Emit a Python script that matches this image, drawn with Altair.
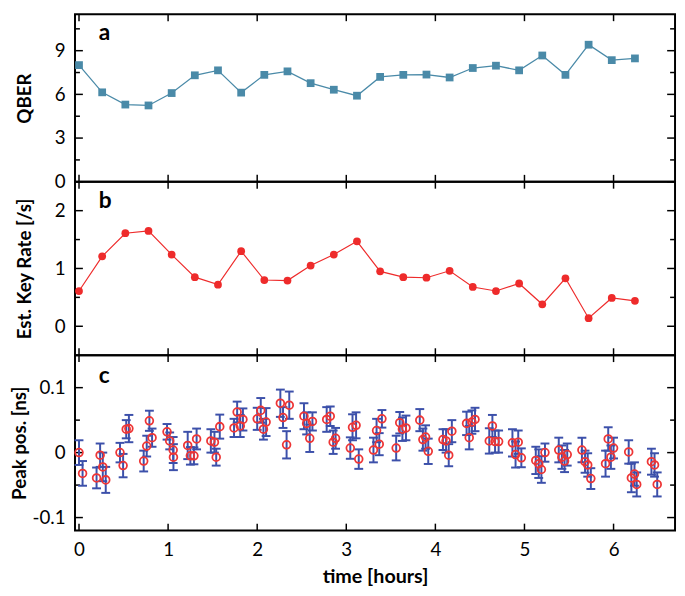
import altair as alt
import pandas as pd

# ---------------- data ----------------
hours_ab = [0.00, 0.26, 0.52, 0.78, 1.04, 1.30, 1.56, 1.82, 2.08, 2.34, 2.60, 2.86, 3.12,
            3.38, 3.64, 3.90, 4.16, 4.42, 4.68, 4.94, 5.20, 5.46, 5.72, 5.98, 6.24]
qber = [8.01, 6.14, 5.30, 5.24, 6.09, 7.31, 7.65, 6.12, 7.34, 7.58, 6.77, 6.32, 5.91,
        7.20, 7.34, 7.36, 7.16, 7.81, 7.97, 7.65, 8.67, 7.34, 9.41, 8.35, 8.47]
key_rate = [0.61, 1.21, 1.61, 1.65, 1.24, 0.85, 0.72, 1.30, 0.80, 0.79, 1.05, 1.24, 1.47,
            0.95, 0.85, 0.84, 0.96, 0.68, 0.61, 0.74, 0.38, 0.83, 0.14, 0.49, 0.44]

t_c = [0.00, 0.04, 0.197, 0.237, 0.267, 0.30, 0.46, 0.495, 0.53, 0.56, 0.726, 0.76, 0.79, 0.82,
       0.988, 1.018, 1.057, 1.06, 1.22, 1.25, 1.29, 1.32, 1.48, 1.52, 1.54, 1.58, 1.74, 1.775,
       1.81, 1.84, 2.00, 2.04, 2.07, 2.10, 2.26, 2.29, 2.33, 2.36, 2.525, 2.555, 2.59, 2.62,
       2.78, 2.82, 2.853, 2.88, 3.045, 3.07, 3.11, 3.14, 3.305, 3.34, 3.37, 3.40, 3.56, 3.60,
       3.63, 3.67, 3.825, 3.86, 3.89, 3.92, 4.085, 4.12, 4.15, 4.185, 4.35, 4.38, 4.41, 4.445,
       4.605, 4.64, 4.67, 4.71, 4.865, 4.90, 4.93, 4.965, 5.127, 5.16, 5.19, 5.23, 5.385, 5.42,
       5.45, 5.48, 5.645, 5.68, 5.71, 5.745, 5.91, 5.94, 5.97, 6.00, 6.17, 6.20, 6.235, 6.26,
       6.425, 6.46, 6.49]
peak = [0.000, -0.032, -0.039, -0.004, -0.022, -0.042, 0.000, -0.020, 0.036, 0.037, -0.013,
        0.010, 0.049, 0.023, 0.032, 0.018, 0.004, -0.007, 0.011, -0.005, -0.005, 0.021, 0.018,
        0.016, -0.007, 0.040, 0.038, 0.0625, 0.041, 0.051, 0.052, 0.065, 0.036, 0.047, 0.076,
        0.054, 0.012, 0.073, 0.056, 0.045, 0.022, 0.048, 0.051, 0.056, 0.016, 0.022, 0.007,
        0.039, 0.042, -0.010, 0.004, 0.034, 0.013, 0.052, 0.007, 0.046, 0.036, 0.038, 0.050,
        0.020, 0.024, 0.002, 0.020, 0.018, -0.004, 0.033, 0.045, 0.023, 0.047, 0.051, 0.018,
        0.041, 0.017, 0.017, 0.015, -0.003, 0.016, -0.008, -0.012, -0.017, -0.026, 0.000,
        0.004, -0.007, -0.013, -0.003, 0.004, -0.014, -0.019, -0.040, -0.017, 0.021, -0.007,
        0.007, 0.001, -0.039, -0.033, -0.049, -0.014, -0.019, -0.049]
peak_err = [0.019, 0.019, 0.016, 0.018, 0.022, 0.020, 0.015, 0.018, 0.014, 0.021, 0.016,
            0.016, 0.0155, 0.014, 0.012, 0.013, 0.020, 0.020, 0.021, 0.0135, 0.013, 0.016,
            0.018, 0.016, 0.013, 0.0185, 0.014, 0.016, 0.017, 0.017, 0.017, 0.019, 0.016,
            0.0215, 0.021, 0.016, 0.021, 0.021, 0.020, 0.017, 0.021, 0.014, 0.019, 0.015,
            0.018, 0.016, 0.0165, 0.020, 0.020, 0.015, 0.019, 0.018, 0.017, 0.0135, 0.019,
            0.0165, 0.018, 0.019, 0.017, 0.017, 0.018, 0.0195, 0.016, 0.018, 0.017, 0.017,
            0.018, 0.018, 0.018, 0.018, 0.0195, 0.017, 0.017, 0.017, 0.021, 0.020, 0.018,
            0.0145, 0.021, 0.022, 0.0205, 0.014, 0.019, 0.018, 0.017, 0.017, 0.019, 0.017,
            0.018, 0.016, 0.020, 0.018, 0.018, 0.016, 0.018, 0.022, 0.018, 0.0185, 0.020,
            0.018, 0.0185]

x_ticks = [0, 1, 2, 3, 4, 5, 6]
a_major, a_minor = [0, 3, 6, 9], [1.5, 4.5, 7.5, 10.5]
b_major, b_minor = [0, 1, 2], [0.5, 1.5]
c_major, c_minor = [-0.1, 0, 0.1], [-0.05, 0.05]

# ---------------- styling ----------------
W = 609
XDOM = [-0.045, 6.69]
FONT = "Lato"
BLUE_A = "#4a8aa8"
RED_B = "#ee2b2b"
RED_C = "#ee3535"
BLUE_C = "#3c50aa"
LBL = 19
TTL = 19

xscale = alt.Scale(domain=XDOM, nice=False, zero=False)


def tick_layers(ys, yaxis, xaxis, major, minor, H):
    maj = pd.DataFrame({"v": major})
    mino = pd.DataFrame({"v": minor})
    xt = pd.DataFrame({"h": x_ticks})
    y_enc = alt.Y("v:Q", scale=ys, axis=yaxis)
    x_enc = alt.X("h:Q", scale=xscale, axis=xaxis)
    L = []
    L.append(alt.Chart(maj).mark_rule(color="black", strokeWidth=1.5).encode(
        y=y_enc, x=alt.value(0), x2=alt.value(8)))
    L.append(alt.Chart(maj).mark_rule(color="black", strokeWidth=1.5).encode(
        y=y_enc, x=alt.value(W - 8), x2=alt.value(W)))
    L.append(alt.Chart(mino).mark_rule(color="black", strokeWidth=1.5).encode(
        y=y_enc, x=alt.value(0), x2=alt.value(5)))
    L.append(alt.Chart(mino).mark_rule(color="black", strokeWidth=1.5).encode(
        y=y_enc, x=alt.value(W - 5), x2=alt.value(W)))
    L.append(alt.Chart(xt).mark_rule(color="black", strokeWidth=1.5).encode(
        x=x_enc, y=alt.value(H), y2=alt.value(H - 7)))
    L.append(alt.Chart(xt).mark_rule(color="black", strokeWidth=1.5).encode(
        x=x_enc, y=alt.value(0), y2=alt.value(7)))
    return L


def letter(txt, yb):
    return alt.Chart(pd.DataFrame({"l": [txt]})).mark_text(
        font=FONT, fontSize=23, fontWeight="bold", align="left", baseline="alphabetic",
        color="black").encode(text="l:N", x=alt.value(24), y=alt.value(yb))


def yaxis_for(values, title, title_x, label_expr=None):
    kw = dict(values=values, ticks=False, domain=False, grid=False, labelPadding=10,
              labelFontSize=LBL, labelFont=FONT, labelColor="black", title=title,
              titleFontSize=TTL, titleFont=FONT, titleFontWeight="bold", titleColor="black",
              titleX=title_x)
    if label_expr:
        kw["labelExpr"] = label_expr
    return alt.Axis(**kw)


# ---------------- panel a ----------------
HA = 170
ys_a = alt.Scale(domain=[0, 11.5], nice=False, zero=False)
ya = yaxis_for(a_major, "QBER", -41)
df_a = pd.DataFrame({"h": hours_ab, "v": qber})
pa_line = alt.Chart(df_a).mark_line(color=BLUE_A, strokeWidth=1.3).encode(
    x=alt.X("h:Q", scale=xscale, axis=None), y=alt.Y("v:Q", scale=ys_a, axis=ya))
pa_pts = alt.Chart(df_a).mark_square(color=BLUE_A, size=62, opacity=1).encode(
    x=alt.X("h:Q", scale=xscale, axis=None), y=alt.Y("v:Q", scale=ys_a, axis=ya))
panel_a = alt.layer(*tick_layers(ys_a, ya, None, a_major, a_minor, HA), pa_line, pa_pts,
                    letter("a", 26)).properties(width=W, height=HA)

# ---------------- panel b ----------------
HB = 176
ys_b = alt.Scale(domain=[-0.5, 2.5], nice=False, zero=False)
yb = yaxis_for(b_major, "Est. Key Rate [/s]", -41)
df_b = pd.DataFrame({"h": hours_ab, "v": key_rate})
pb_line = alt.Chart(df_b).mark_line(color=RED_B, strokeWidth=1.2).encode(
    x=alt.X("h:Q", scale=xscale, axis=None), y=alt.Y("v:Q", scale=ys_b, axis=yb))
pb_pts = alt.Chart(df_b).mark_circle(color=RED_B, size=62, opacity=1).encode(
    x=alt.X("h:Q", scale=xscale, axis=None), y=alt.Y("v:Q", scale=ys_b, axis=yb))
panel_b = alt.layer(*tick_layers(ys_b, yb, None, b_major, b_minor, HB), pb_line, pb_pts,
                    letter("b", 27)).properties(width=W, height=HB)

# ---------------- panel c ----------------
HC = 178
ys_c = alt.Scale(domain=[-0.12, 0.15], nice=False, zero=False)
yc = yaxis_for(c_major, "Peak pos. [ns]", -46, "'' + datum.value")
xc = alt.Axis(values=x_ticks, ticks=False, domain=False, grid=False, labelPadding=10,
              labelFontSize=LBL, labelFont=FONT, labelColor="black", title="time [hours]",
              titleFontSize=20, titleFont=FONT, titleFontWeight="bold", titleColor="black",
              titlePadding=8)
df_c = pd.DataFrame({"h": t_c, "v": peak, "e": peak_err})
base_c = alt.Chart(df_c).transform_calculate(lo="datum.v - datum.e", hi="datum.v + datum.e")
X_c = alt.X("h:Q", scale=xscale, axis=xc)
pc_bar = base_c.mark_rule(color=BLUE_C, strokeWidth=2).encode(
    x=X_c, y=alt.Y("lo:Q", scale=ys_c, axis=yc), y2="hi:Q")
pc_cap_lo = base_c.mark_tick(color=BLUE_C, orient="horizontal", size=9, thickness=2,
                             opacity=1).encode(x=X_c, y=alt.Y("lo:Q", scale=ys_c, axis=yc))
pc_cap_hi = base_c.mark_tick(color=BLUE_C, orient="horizontal", size=9, thickness=2,
                             opacity=1).encode(x=X_c, y=alt.Y("hi:Q", scale=ys_c, axis=yc))
pc_pts = base_c.mark_point(shape="circle", filled=False, color=RED_C, size=62,
                           strokeWidth=1.8, opacity=1).encode(
    x=X_c, y=alt.Y("v:Q", scale=ys_c, axis=yc))
panel_c = alt.layer(*tick_layers(ys_c, yc, xc, c_major, c_minor, HC), pc_bar, pc_cap_lo,
                    pc_cap_hi, pc_pts, letter("c", 28)).properties(width=W, height=HC)

chart = alt.vconcat(panel_a, panel_b, panel_c, spacing=0, bounds="flush").properties(
    padding={"left": 2, "top": 0, "right": 0, "bottom": 0}
).configure(
    font=FONT,
    view=alt.ViewConfig(stroke="black", strokeWidth=2),
)

chart.save("out.html", embed_options={"renderer": "svg", "actions": False})
